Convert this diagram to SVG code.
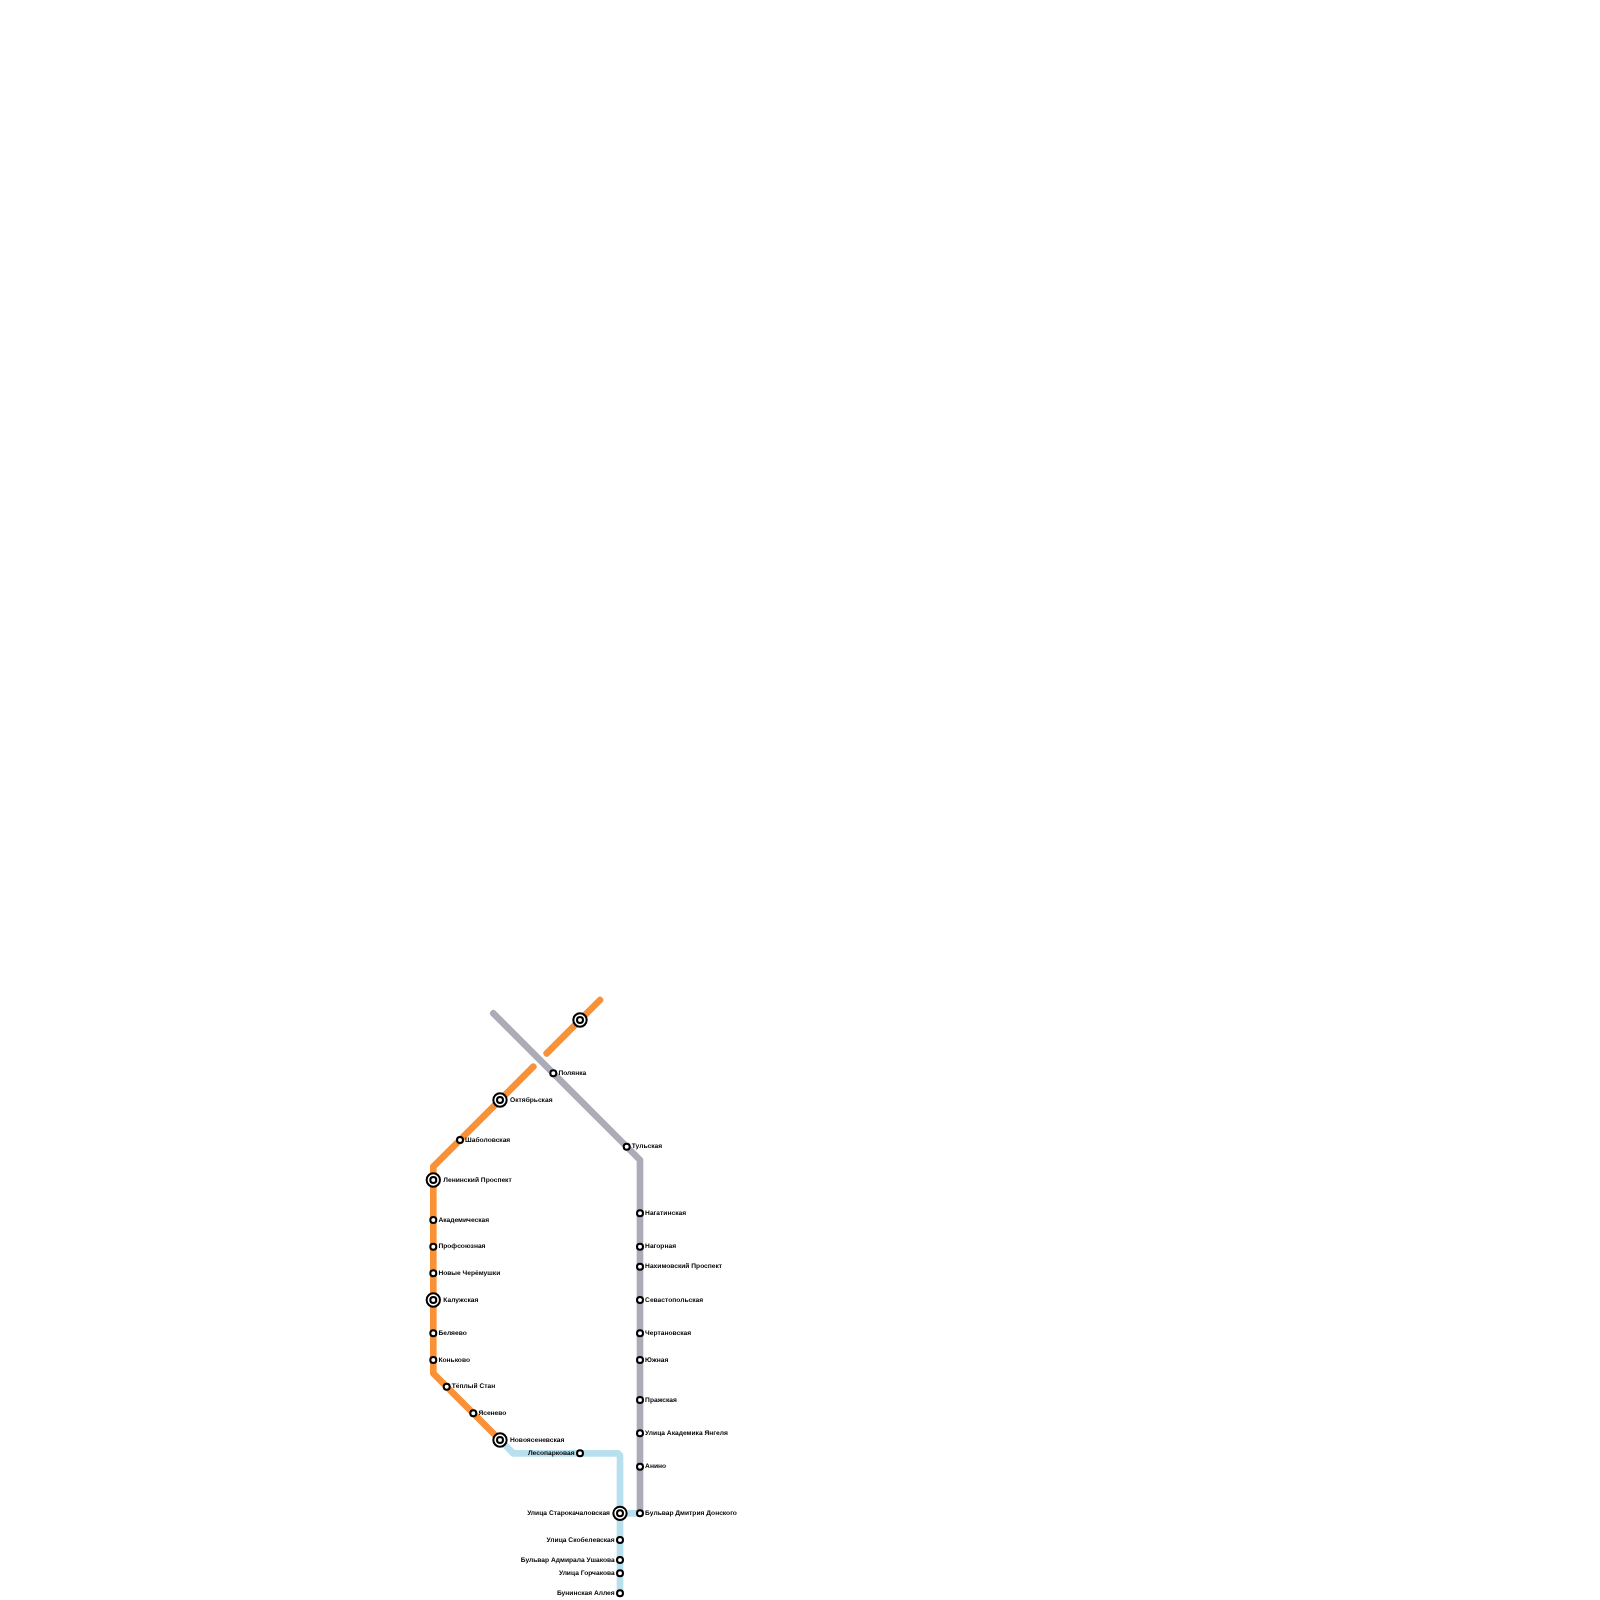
<svg xmlns="http://www.w3.org/2000/svg" width="1600" height="1600" viewBox="0 0 1600 1600">
<style>
.l{fill:none;stroke-width:6.67;stroke-linecap:round;stroke-linejoin:round}
.o{stroke:#fb9137}.g{stroke:#acacb9}.b{stroke:#b8dfee}
.s{fill:#fff;stroke:#000;stroke-width:2}
.r{fill:#fff;stroke:#000;stroke-width:2}
text{font-family:"Liberation Sans",Arial,sans-serif;font-size:6.67px;font-weight:700;fill:#000;dominant-baseline:middle;text-rendering:geometricPrecision;filter:url(#soft)}
.e{text-anchor:end}
</style>
<rect width="1600" height="1600" fill="#fff"/>
<g id="connectors">
<path class="l b" d="M500 1440L513.3 1453.3H618L620 1455.3V1593.3M620 1513.3H640"/>
<path class="l g" d="M493.3 1013.3L640 1160V1513.3"/>
<path class="l o" d="M600 1000L546.7 1053.3M533.3 1066.7L433.3 1166.7V1373.3L500 1440"/>
</g>
<defs>
<filter id="soft" x="-5%" y="-30%" width="110%" height="160%"><feGaussianBlur stdDeviation="0.2"/></filter>
<g id="st"><circle class="s" r="3"/></g>
<g id="ic"><circle class="r" r="6.67"/><circle class="s" r="3"/></g>
</defs>
<g id="n1"><use href="#ic" x="580" y="1020"/></g>
<g id="n2"><use href="#st" x="553.3" y="1073.3"/><text x="558.4" y="1073.1">Полянка</text></g>
<g id="n3"><use href="#ic" x="500" y="1100"/><text x="510" y="1099.8">Октябрьская</text></g>
<g id="n4"><use href="#st" x="460" y="1140"/><text x="465.1" y="1139.8">Шаболовская</text></g>
<g id="n5"><use href="#st" x="626.7" y="1146.7"/><text x="631.8" y="1146.5">Тульская</text></g>
<g id="n6"><use href="#ic" x="433.3" y="1180"/><text x="443.3" y="1179.8">Ленинский Проспект</text></g>
<g id="n7"><use href="#st" x="433.3" y="1220"/><text x="438.4" y="1219.8">Академическая</text></g>
<g id="n8"><use href="#st" x="433.3" y="1246.7"/><text x="438.4" y="1246.5">Профсоюзная</text></g>
<g id="n9"><use href="#st" x="433.3" y="1273.3"/><text x="438.4" y="1273.1">Новые Черёмушки</text></g>
<g id="n10"><use href="#ic" x="433.3" y="1300"/><text x="443.3" y="1299.8">Калужская</text></g>
<g id="n11"><use href="#st" x="433.3" y="1333.3"/><text x="438.4" y="1333.1">Беляево</text></g>
<g id="n12"><use href="#st" x="433.3" y="1360"/><text x="438.4" y="1359.8">Коньково</text></g>
<g id="n13"><use href="#st" x="446.7" y="1386.7"/><text x="451.8" y="1386.5">Тёплый Стан</text></g>
<g id="n14"><use href="#st" x="473.3" y="1413.3"/><text x="478.4" y="1413.1">Ясенево</text></g>
<g id="n15"><use href="#ic" x="500" y="1440"/><text x="510" y="1439.8">Новоясеневская</text></g>
<g id="n16"><use href="#st" x="580" y="1453.3"/><text class="e" x="574.7" y="1453.1">Лесопарковая</text></g>
<g id="n17"><use href="#st" x="640" y="1213.3"/><text x="645.1" y="1213.1">Нагатинская</text></g>
<g id="n18"><use href="#st" x="640" y="1246.7"/><text x="645.1" y="1246.5">Нагорная</text></g>
<g id="n19"><use href="#st" x="640" y="1266.7"/><text x="645.1" y="1266.5">Нахимовский Проспект</text></g>
<g id="n20"><use href="#st" x="640" y="1300"/><text x="645.1" y="1299.8">Севастопольская</text></g>
<g id="n21"><use href="#st" x="640" y="1333.3"/><text x="645.1" y="1333.1">Чертановская</text></g>
<g id="n22"><use href="#st" x="640" y="1360"/><text x="645.1" y="1359.8">Южная</text></g>
<g id="n23"><use href="#st" x="640" y="1400"/><text x="645.1" y="1399.8">Пражская</text></g>
<g id="n24"><use href="#st" x="640" y="1433.3"/><text x="645.1" y="1433.1">Улица Академика Янгеля</text></g>
<g id="n25"><use href="#st" x="640" y="1466.7"/><text x="645.1" y="1466.5">Анино</text></g>
<g id="n26"><use href="#st" x="640" y="1513.3"/><text x="645.1" y="1513.1">Бульвар Дмитрия Донского</text></g>
<g id="n27"><use href="#ic" x="620" y="1513.3"/><text class="e" x="610" y="1513.1">Улица Старокачаловская</text></g>
<g id="n28"><use href="#st" x="620" y="1540"/><text class="e" x="614.7" y="1539.8">Улица Скобелевская</text></g>
<g id="n29"><use href="#st" x="620" y="1560"/><text class="e" x="614.7" y="1559.8">Бульвар Адмирала Ушакова</text></g>
<g id="n30"><use href="#st" x="620" y="1573.3"/><text class="e" x="614.7" y="1573.1">Улица Горчакова</text></g>
<g id="n31"><use href="#st" x="620" y="1593.3"/><text class="e" x="614.7" y="1593.1">Бунинская Аллея</text></g>
</svg>
